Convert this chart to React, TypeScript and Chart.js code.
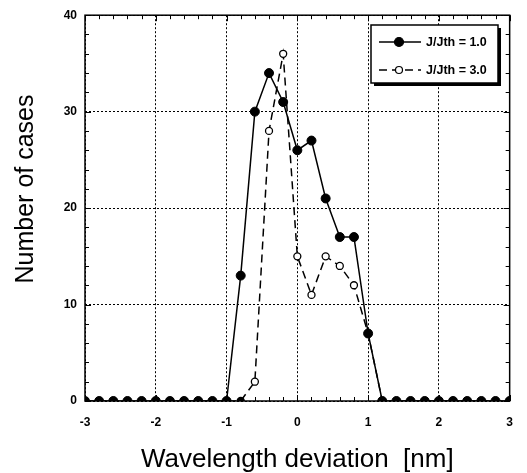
import React, { useEffect, useRef } from "react";
import { Chart, registerables } from "chart.js";

Chart.register(...registerables);

const xValues = [-3, -2.8, -2.6, -2.4, -2.2, -2, -1.8, -1.6, -1.4, -1.2, -1, -0.8, -0.6, -0.4, -0.2, 0, 0.2, 0.4, 0.6, 0.8, 1, 1.2, 1.4, 1.6, 1.8, 2, 2.2, 2.4, 2.6, 2.8, 3];
const seriesJ1 = [0, 0, 0, 0, 0, 0, 0, 0, 0, 0, 0, 13, 30, 34, 31, 26, 27, 21, 17, 17, 7, 0, 0, 0, 0, 0, 0, 0, 0, 0, 0];
const seriesJ3 = [0, 0, 0, 0, 0, 0, 0, 0, 0, 0, 0, 0, 2, 28, 36, 15, 11, 15, 14, 12, 7, 0, 0, 0, 0, 0, 0, 0, 0, 0, 0];
const labelJ1 = "J/Jth = 1.0";
const labelJ3 = "J/Jth = 3.0";
const xTitle = "Wavelength deviation  [nm]";
const yTitle = "Number of cases";

const FONT = "'Liberation Sans', Arial, sans-serif";

const framePlugin = {
  id: "frame",
  afterDatasetsDraw(chart: any) {
    const { ctx, chartArea: a, scales } = chart;
    const xs = scales.x;
    const ys = scales.y;
    ctx.save();
    ctx.strokeStyle = "#000";
    ctx.lineWidth = 1.5;
    ctx.setLineDash([]);
    ctx.strokeRect(a.left, a.top, a.right - a.left, a.bottom - a.top);
    ctx.lineWidth = 1;
    for (let i = 0; i <= 30; i++) {
      const v = -3 + i * 0.2;
      const px = Math.round(xs.getPixelForValue(v)) + 0.5;
      const len = i % 5 === 0 ? 6 : 4;
      ctx.beginPath();
      ctx.moveTo(px, a.bottom);
      ctx.lineTo(px, a.bottom - len);
      ctx.moveTo(px, a.top);
      ctx.lineTo(px, a.top + len);
      ctx.stroke();
    }
    for (let i = 0; i <= 20; i++) {
      const v = i * 2;
      const py = Math.round(ys.getPixelForValue(v)) + 0.5;
      const len = i % 5 === 0 ? 6 : 4;
      ctx.beginPath();
      ctx.moveTo(a.left, py);
      ctx.lineTo(a.left + len, py);
      ctx.moveTo(a.right, py);
      ctx.lineTo(a.right - len, py);
      ctx.stroke();
    }
    // y axis title
    ctx.save();
    ctx.translate(26, 189);
    ctx.rotate(-Math.PI / 2);
    ctx.fillStyle = "#000";
    ctx.font = `25px ${FONT}`;
    ctx.textAlign = "center";
    ctx.textBaseline = "middle";
    ctx.fillText(yTitle, 0, 0);
    ctx.restore();
    // legend
    const bx = 371, by = 25, bw = 127, bh = 58;
    ctx.fillStyle = "#000";
    ctx.fillRect(bx + 3, by + 3, bw, bh);
    ctx.fillStyle = "#fff";
    ctx.fillRect(bx, by, bw, bh);
    ctx.lineWidth = 1.5;
    ctx.strokeRect(bx, by, bw, bh);
    const ds = chart.data.datasets;
    const rows = [by + 17, by + 45];
    ds.forEach((d: any, i: number) => {
      const y = rows[i];
      ctx.lineWidth = 1.5;
      ctx.strokeStyle = "#000";
      ctx.setLineDash(d.borderDash || []);
      ctx.beginPath();
      ctx.moveTo(bx + 8, y);
      ctx.lineTo(bx + 50, y);
      ctx.stroke();
      ctx.setLineDash([]);
      ctx.beginPath();
      ctx.arc(bx + 28, y, i === 0 ? 4.5 : 3.5, 0, Math.PI * 2);
      ctx.fillStyle = i === 0 ? "#000" : "#fff";
      ctx.fill();
      ctx.lineWidth = 1.2;
      ctx.stroke();
      ctx.fillStyle = "#000";
      ctx.font = `bold 12.5px ${FONT}`;
      ctx.textBaseline = "middle";
      ctx.textAlign = "left";
      ctx.fillText(d.label, bx + 55, y + 1);
    });
    ctx.restore();
  },
};

export default function App() {
  const ref = useRef<HTMLCanvasElement>(null);
  useEffect(() => {
    document.body.style.margin = "0";
    const c = ref.current!;
    const chart = new Chart(c, {
      type: "line",
      data: {
        datasets: [
          {
            label: labelJ1,
            data: xValues.map((x, i) => ({ x, y: seriesJ1[i] })),
            borderColor: "#000",
            backgroundColor: "#000",
            borderWidth: 1.5,
            pointRadius: 4.5,
            pointBorderWidth: 1,
            pointBackgroundColor: "#000",
            pointBorderColor: "#000",
            tension: 0,
            order: 1,
          },
          {
            label: labelJ3,
            data: xValues.map((x, i) => ({ x, y: seriesJ3[i] })),
            borderColor: "#000",
            borderWidth: 1.5,
            borderDash: [8, 5],
            pointRadius: 3.5,
            pointBorderWidth: 1.3,
            pointBackgroundColor: (ctx: any) => (ctx.raw && ctx.raw.y === 0 ? "#000" : "#fff"),
            pointBorderColor: "#000",
            tension: 0,
            order: 2,
          },
        ],
      },
      options: {
        animation: false,
        responsive: false,
        maintainAspectRatio: false,
        layout: { padding: { top: 13, right: 17, left: 0, bottom: 0 } },
        plugins: { legend: { display: false }, tooltip: { enabled: false } },
        scales: {
          x: {
            type: "linear",
            min: -3,
            max: 3,
            ticks: {
              stepSize: 1,
              color: "#000",
              font: { family: FONT, size: 12, weight: "bold" },
              padding: 14,
              maxRotation: 0,
            },
            grid: { color: "#000", lineWidth: 1, drawTicks: false },
            border: { display: false, dash: [2, 2] },
            title: {
              display: true,
              text: xTitle,
              color: "#000",
              font: { family: FONT, size: 26 },
              padding: { top: 0, bottom: -2 },
            },
            afterFit(scale: any) {
              scale.height = 72;
            },
          },
          y: {
            type: "linear",
            min: 0,
            max: 40,
            ticks: {
              stepSize: 10,
              color: "#000",
              font: { family: FONT, size: 12, weight: "bold" },
              padding: 8,
            },
            grid: { color: "#000", lineWidth: 1, drawTicks: false },
            border: { display: false, dash: [2, 2] },
            title: { display: false },
            afterFit(scale: any) {
              scale.width = 85;
            },
          },
        },
      },
      plugins: [framePlugin],
    } as any);
    return () => chart.destroy();
  }, []);
  return (
    <div style={{ width: 527, height: 473, background: "#fff" }}>
      <canvas ref={ref} width={527} height={473} style={{ display: "block" }} />
    </div>
  );
}
